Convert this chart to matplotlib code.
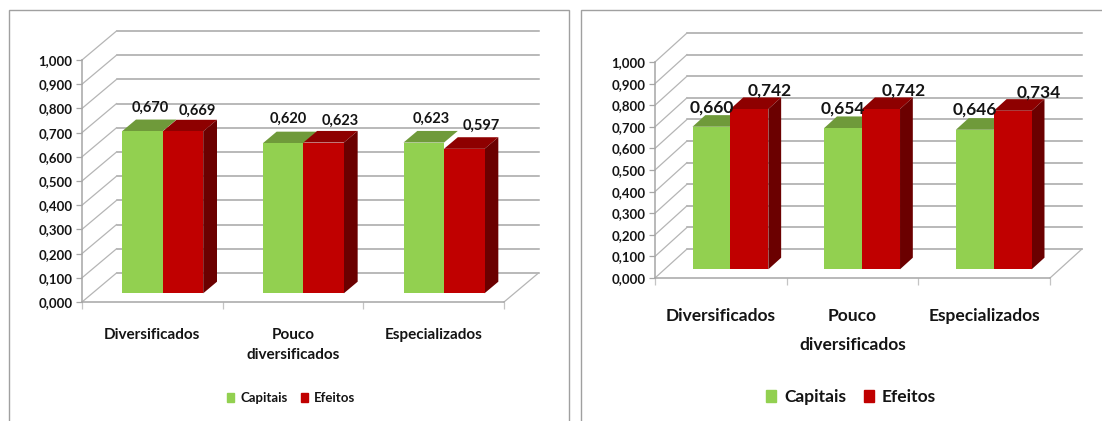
import matplotlib
matplotlib.use("Agg")
import matplotlib.pyplot as plt
from matplotlib.patches import Patch, Polygon, Rectangle

plt.rcParams['font.family'] = ['Lato', 'DejaVu Sans']

categories = ['Diversificados', 'Pouco\ndiversificados', 'Especializados']
series_names = ['Capitais', 'Efeitos']
y_ticks = [0.0, 0.1, 0.2, 0.3, 0.4, 0.5, 0.6, 0.7, 0.8, 0.9, 1.0]
y_tick_labels = ['0,000', '0,100', '0,200', '0,300', '0,400', '0,500',
                 '0,600', '0,700', '0,800', '0,900', '1,000']

capitais_left = [0.670, 0.620, 0.623]
efeitos_left = [0.669, 0.623, 0.597]
capitais_right = [0.660, 0.654, 0.646]
efeitos_right = [0.742, 0.742, 0.734]

W, H = 1102, 421
GREEN = ['#92d050', '#6f9a3a']
RED = ['#c00000', '#8e0000', '#6b0000']
GRID = '#a6a6a6'
TEXT = '#141414'

fig = plt.figure(figsize=(W / 100, H / 100), dpi=100)


def draw_bar(ax, x, value, width, sx, sy, ddx, ddy, colors):
    # front face with a real bar, top and side are skewed polygons
    ax.bar(x, value, width, bottom=sy, align='edge', color=colors[0], zorder=5)
    top = value + sy
    ax.add_patch(Polygon([(x, top), (x + width, top), (x + width + ddx, top + ddy), (x + ddx, top + ddy)],
                         color=colors[1], lw=0, zorder=4, clip_on=False))
    if len(colors) > 2:
        ax.add_patch(Polygon([(x + width, sy), (x + width + ddx, sy + ddy), (x + width + ddx, top + ddy), (x + width, top)],
                             color=colors[2], lw=0, zorder=4, clip_on=False))


def draw_panel(box, capitais, efeitos, wall_px, label_off, label_size, tick_size, cat_size, cat_pad, cat_spacing, legend_pos, legend_size):
    left, right, top, bottom = box
    ax = fig.add_axes([left / W, 1 - bottom / H, (right - left) / W, (bottom - top) / H])
    ax.set_xlim(0, 3)
    ax.set_ylim(0, 1)
    ax.patch.set_alpha(0)

    # depth of the fake 3d box, in data units
    unit_x = (right - left) / 3
    unit_y = bottom - top
    dx = wall_px[0] / unit_x
    dy = wall_px[1] / unit_y

    for v in y_ticks:
        ax.plot([dx, 3 + dx], [v + dy, v + dy], color=GRID, lw=1.1, zorder=1, clip_on=False)
        ax.plot([0, dx], [v, v + dy], color='#b5b5b5', lw=0.9, zorder=1, clip_on=False)
    ax.plot([3, 3 + dx], [0, dy], color='#b5b5b5', lw=0.9, zorder=1, clip_on=False)

    for s in ['top', 'right']:
        ax.spines[s].set_visible(False)
    for s in ['left', 'bottom']:
        ax.spines[s].set_color(GRID)
        ax.spines[s].set_linewidth(1.1)

    ax.set_yticks(y_ticks)
    ax.set_yticklabels(y_tick_labels, fontsize=tick_size, fontweight='bold', color=TEXT)
    ax.tick_params(axis='y', length=4, width=0.9, color=GRID, pad=3)
    ax.set_xticks([0, 1, 2, 3])
    ax.set_xticklabels([])
    ax.tick_params(axis='x', length=5, width=0.9, color='#c4c4c4')
    ax.set_xticks([0.5, 1.5, 2.5], minor=True)
    ax.set_xticklabels(categories, minor=True, fontsize=cat_size, fontweight='bold', color=TEXT, linespacing=cat_spacing)
    ax.tick_params(axis='x', which='minor', length=0, pad=cat_pad)

    # bars sit 30% into the floor and take 40% of its depth
    sx = dx * 0.3
    sy = dy * 0.3
    ddx = dx * 0.4
    ddy = dy * 0.4
    bw = 0.288
    for i in range(3):
        x0 = i + 0.5 + sx - bw
        draw_bar(ax, x0, capitais[i], bw, sx, sy, ddx, ddy, GREEN)
        draw_bar(ax, x0 + bw, efeitos[i], bw, sx, sy, ddx, ddy, RED)
        for j, val in enumerate([capitais[i], efeitos[i]]):
            ox, oy = label_off[i][j]
            ax.annotate(('%.3f' % val).replace('.', ','), (x0 + bw * (j + 0.5), val + sy),
                        xytext=(ox * 0.72, oy * 0.72), textcoords='offset points', ha='center', va='center',
                        fontsize=label_size, fontweight='bold', color=TEXT, zorder=6, annotation_clip=False)

    handles = [Patch(color=GREEN[0], label=series_names[0]), Patch(color=RED[0], label=series_names[1])]
    fig.legend(handles=handles, loc='center', bbox_to_anchor=(legend_pos[0] / W, 1 - legend_pos[1] / H), ncol=2,
               frameon=False, handlelength=0.58, handleheight=0.62,
               handletextpad=0.45, columnspacing=1.0, labelcolor=TEXT, prop={'weight': 'bold', 'size': legend_size})


# panel frames
fig.add_artist(Rectangle((9 / W, -0.05), 560 / W, 1.05 - 10 / H, transform=fig.transFigure, fill=False, ec='#a0a0a0', lw=1.0))
fig.add_artist(Rectangle((581 / W, -0.05), 530 / W, 1.05 - 10 / H, transform=fig.transFigure, fill=False, ec='#a0a0a0', lw=1.0))

draw_panel((82, 504, 60, 302), capitais_left, efeitos_left, (34.5, 29),
           [[(8, 23), (14, 21)], [(5, 24), (17, 22)], [(7, 24), (17, 23)]],
           10.5, 9.5, 11, 19, 1.5, (291, 398), 9.5)
draw_panel((655, 1050, 62, 278), capitais_right, efeitos_right, (32, 29),
           [[(0, 19), (20, 19)], [(0, 20), (23, 19)], [(0, 20), (26, 18)]],
           12.5, 9.5, 12.5, 21.5, 2.0, (851, 397), 12.5)

fig.savefig('out.png', dpi=100)
